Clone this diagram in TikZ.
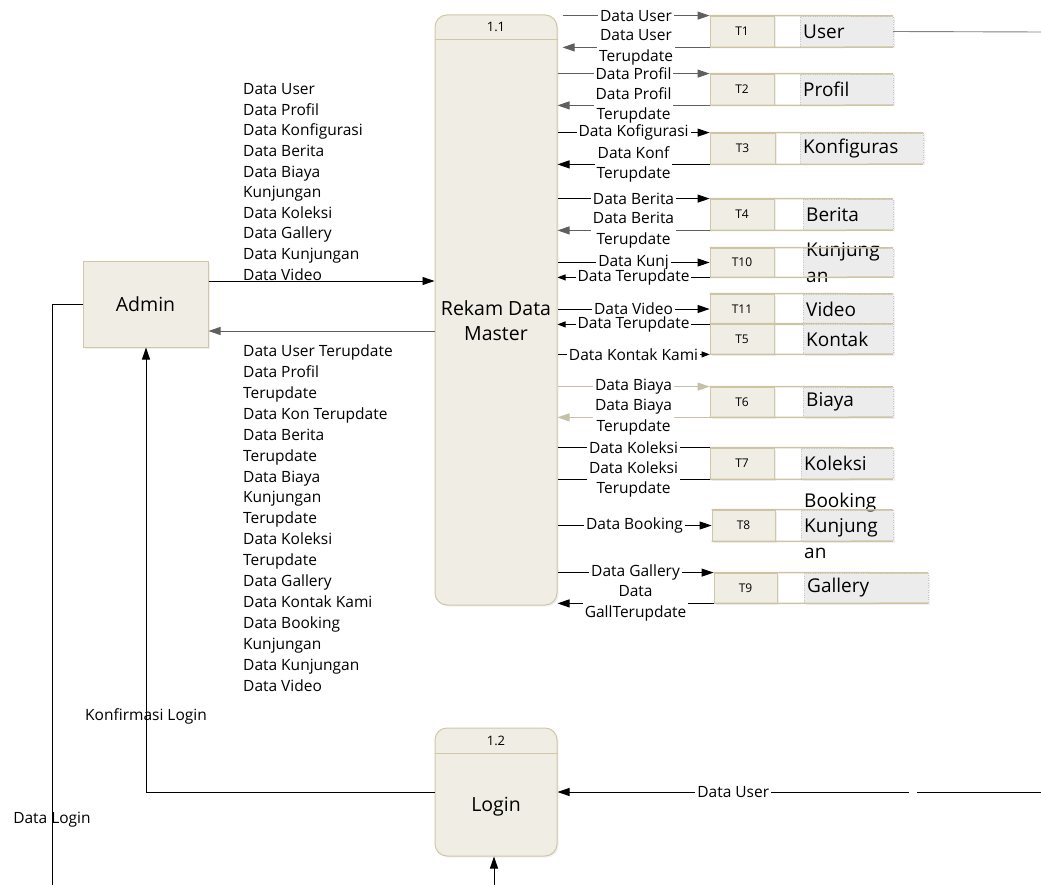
\documentclass[tikz,border=0pt]{standalone}
\usepackage{fontspec}
\setmainfont{Open Sans}
\usetikzlibrary{arrows.meta,shadows}

\definecolor{procfill}{RGB}{240,237,228}
\definecolor{procdraw}{RGB}{208,199,170}
\definecolor{storegray}{RGB}{236,236,236}
\definecolor{storeline}{RGB}{205,196,164}
\definecolor{flowgray}{RGB}{95,95,95}
\definecolor{flowbeige}{RGB}{198,192,166}

\newcommand{\dfdflow}{\fontsize{15.5pt}{20.6pt}\selectfont}
\newcommand{\dfdflowB}{\fontsize{15.5pt}{20.9pt}\selectfont}
\newcommand{\dfdproc}{\fontsize{19.5pt}{25pt}\selectfont}
\newcommand{\dfdname}{\fontsize{19pt}{25.5pt}\selectfont}
\newcommand{\dfdid}{\fontsize{13pt}{15pt}\selectfont}
\newcommand{\dfdtag}{\fontsize{12pt}{14pt}\selectfont}

\tikzset{
  x=1pt, y=-1pt,
  every node/.style={inner sep=0pt},
  softshadow/.style={drop shadow={opacity=0.12, shadow xshift=1.5pt, shadow yshift=-1.5pt}},
  proc/.style={draw=procdraw, fill=procfill, rounded corners=12pt, line width=1pt, softshadow},
  entity/.style={draw=procdraw, fill=procfill, line width=1pt, softshadow, font=\dfdproc},
  tbox/.style={draw=procdraw, fill=procfill, line width=0.8pt, softshadow, font=\dfdtag},
  namebox/.style={draw=gray!45, dotted, fill=storegray, softshadow},
  lab/.style={font=\dfdflow, fill=white, inner xsep=2pt, inner ysep=0.5pt, align=center},
  plainlab/.style={font=\dfdflow},
  fl/.style={line width=0.9pt, -{Triangle[length=12pt,width=8pt]}},
  fls/.style={line width=0.9pt, -{Triangle[length=8pt,width=6pt]}},
  ln/.style={line width=0.9pt},
}

% data store: id, tag, tag left, tag right, top, bottom, name-box left, name-box right, name
\newcommand{\DStore}[9]{%
  \node[namebox, minimum width={#8pt-#7pt}, minimum height={#6pt-#5pt}] (nb#1) at ({(#7+#8)/2},{(#5+#6)/2}) {};
  \node[tbox, minimum width={#4pt-#3pt}, minimum height={#6pt-#5pt}] (t#1) at ({(#3+#4)/2},{(#5+#6)/2}) {#2};
  \node[font=\dfdname, anchor=west, align=left] (n#1) at (#7+3,{(#5+#6)/2}) {#9};
  \draw[storeline, line width=1.5pt] (t#1.north west) -- (nb#1.north east) (t#1.south west) -- (nb#1.south east);
}

\begin{document}
\begin{tikzpicture}
\useasboundingbox (0,0) rectangle (1041,885);

% processes
\node[proc, minimum width=122pt, minimum height=590pt] (p11) at (496,310) {};
\draw[procdraw, line width=1pt] (p11.west |- 0,40) -- (p11.east |- 0,40);
\node[font=\dfdid] (p11id) at (496,27) {1.1};
\node[font=\dfdproc, align=center] (p11name) at (496,321) {Rekam Data\\Master};

\node[proc, minimum width=122pt, minimum height=128pt] (p12) at (496,792) {};
\draw[procdraw, line width=1pt] (p12.west |- 0,753) -- (p12.east |- 0,753);
\node[font=\dfdid] (p12id) at (496,741) {1.2};
\node[font=\dfdproc] (p12name) at (496,807) {Login};

% external entity
\node[entity, minimum width=125pt, minimum height=85pt] (admin) at (145.5,304.5) {Admin};

% data stores
\DStore{1}{T1}{710}{774}{16}{47}{800}{893}{User}
\DStore{2}{T2}{710}{774}{74}{105}{800}{893}{Profil}
\DStore{3}{T3}{710}{775}{133}{164}{800}{923}{Konfiguras}
\DStore{4}{T4}{710}{774}{199}{230}{803}{893}{Berita}
\DStore{10}{T10}{710}{774}{248}{277}{803}{893}{Kunjung\\an}
\DStore{11}{T11}{710}{774}{294}{324}{803}{893}{Video}
\DStore{5}{T5}{710}{774}{324}{354}{803}{893}{Kontak}
\DStore{6}{T6}{710}{774}{387}{417}{803}{893}{Biaya}
\DStore{7}{T7}{710}{774}{448}{479}{801}{893}{Koleksi}
\DStore{8}{T8}{712}{775}{510}{541}{801}{893}{Booking\\Kunjung\\an}
\DStore{9}{T9}{714}{777}{573}{603}{804}{928}{Gallery}

\coordinate (p11r) at ([xshift=5pt]p11.east);

% flows between Rekam Data Master and the stores
\draw[fl, flowgray] (p11r |- t1.north west) -- node[lab, text=black]{Data User} (t1.north west);
\draw[fl, flowgray] (t1.south west) -- node[lab, text=black]{Data User\\Terupdate} (p11r |- t1.south west);
\draw[fl, flowgray] (p11.east |- t2.north west) -- node[lab, text=black]{Data Profil} (t2.north west);
\draw[fl, flowgray] (t2.south west) -- node[lab, text=black]{Data Profil\\Terupdate} (p11.east |- t2.south west);
\draw[fl] (p11.east |- t3.north west) -- node[lab]{Data Kofigurasi} (t3.north west);
\draw[fl] (t3.south west) -- node[lab]{Data Konf\\Terupdate} (p11.east |- t3.south west);
\draw[fl] (p11.east |- t4.north west) -- node[lab]{Data Berita} (t4.north west);
\draw[fl, flowgray] (t4.south west) -- node[lab, text=black]{Data Berita\\Terupdate} (p11.east |- t4.south west);
\draw[fl] (p11.east |- t10.west) -- node[lab]{Data Kunj} (t10.west);
\draw[fls] (t10.south west) -- node[lab]{Data Terupdate} (p11.east |- t10.south west);
\draw[fl] (p11.east |- t11.west) -- node[lab]{Data Video} (t11.west);
\draw[fls] (t11.south west) -- node[lab]{Data Terupdate} (p11.east |- t11.south west);
\draw[fls] (p11.east |- t5.south west) -- node[lab]{Data Kontak Kami} (t5.south west);
\draw[fl, flowbeige] (p11.east |- t6.north west) -- node[lab, text=black]{Data Biaya} (t6.north west);
\draw[fl, flowbeige] (t6.south west) -- node[lab, text=black]{Data Biaya\\Terupdate} (p11.east |- t6.south west);
\draw[ln] (p11.east |- t7.north west) -- node[lab]{Data Koleksi} (t7.north west);
\draw[ln] (t7.south west) -- node[lab]{Data Koleksi\\Terupdate} (p11.east |- t7.south west);
\draw[fl] (p11.east |- t8.west) -- node[lab]{Data Booking} (t8.west);
\draw[fl] (p11.east |- t9.north west) -- node[lab]{Data Gallery} (t9.north west);
\draw[fl] (t9.south west) -- node[lab]{Data\\GallTerupdate} (p11.east |- t9.south west);

% User store outgoing line
\coordinate (userR) at (1041,32);
\draw[ln, gray] (nb1.east) -- (userR);

% Admin <-> Rekam Data Master
\draw[fl] (admin.east |- 0,281) -- (p11.west |- 0,281);
\draw[fl, flowgray] (p11.west |- 0,331) -- (admin.east |- 0,331);
\node[font=\dfdflow, anchor=west, align=left] (inlist) at (243,182) {Data User\\Data Profil\\Data Konfigurasi\\Data Berita\\Data Biaya\\Kunjungan\\Data Koleksi\\Data Gallery\\Data Kunjungan\\Data Video};
\node[font=\dfdflowB, anchor=west, align=left] (outlist) at (243,518) {Data User Terupdate\\Data Profil\\Terupdate\\Data Kon Terupdate\\Data Berita\\Terupdate\\Data Biaya\\Kunjungan\\Terupdate\\Data Koleksi\\Terupdate\\Data Gallery\\Data Kontak Kami\\Data Booking\\Kunjungan\\Data Kunjungan\\Data Video};

% Login flows
\coordinate (kbend) at (146,792);
\draw[fl] (p12.west) -- (kbend) -- (kbend |- admin.south);
\node[plainlab] (klab) at (146,716) {Konfirmasi Login};

\coordinate (dlbend) at (52,304.5);
\coordinate (dlend) at (52,885);
\draw[ln] (admin.west) -- (dlbend) -- (dlend);
\node[plainlab] (dllab) at (52,820) {Data Login};

\coordinate (loginin) at (494,885);
\draw[fl] (loginin) -- (loginin |- p12.south);

\coordinate (duR) at (1041,792);
\coordinate (duA) at (917,792);
\coordinate (duB) at (909,792);
\draw[ln] (duR) -- (duA);
\draw[fl] (duB) -- node[lab]{Data User} (p12.east);
\end{tikzpicture}
\end{document}
